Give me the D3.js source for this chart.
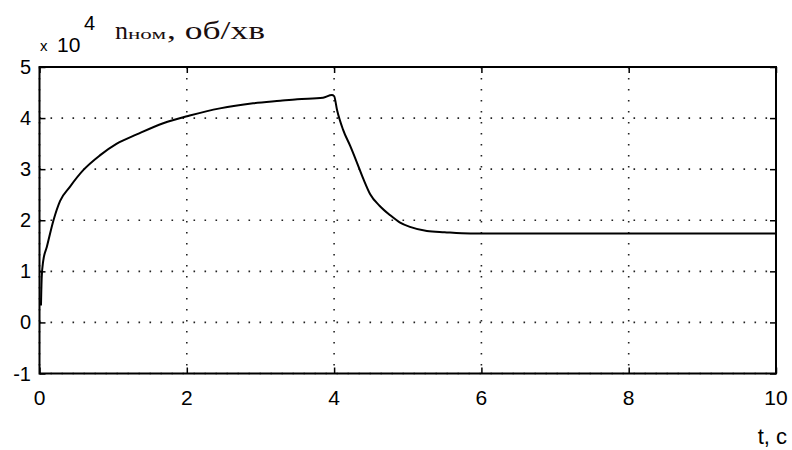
<!DOCTYPE html>
<html>
<head>
<meta charset="utf-8">
<script src="https://cdn.jsdelivr.net/npm/d3@7"></script>
<style>
body { margin: 0; background: #fff; }
</style>
</head>
<body>
<script>
var w = 792;
var h = 450;

// time, s
var tValues = [0.02, 0.03, 0.05, 0.1, 0.19, 0.28, 0.41, 0.6, 0.82, 1.05, 1.32, 1.68, 2.04, 2.45, 2.9, 3.27, 3.5, 3.85, 3.97, 4.0,
               4.04, 4.12, 4.22, 4.31, 4.4, 4.49, 4.62, 4.76, 4.89, 5.03, 5.26, 5.5, 5.85, 7, 10];
// speed, rpm
var nValues = [3300, 8800, 12000, 14800, 20000, 23800, 26500, 29900, 32700, 35000, 36800, 39000, 40500, 41900, 42900, 43400, 43700, 44000, 44500, 44300,
               41600, 37800, 34500, 31300, 28000, 25100, 22800, 21000, 19600, 18700, 17900, 17650, 17400, 17400, 17400];

var xTicks = [0, 2, 4, 6, 8, 10];
var yTicks = [-10000, 0, 10000, 20000, 30000, 40000, 50000];

var plotL = 39.5, plotR = 776, plotT = 67, plotB = 373.5;

var xScale = d3.scaleLinear().domain([0, 10]).range([plotL, plotR]);
var yScale = d3.scaleLinear().domain([-10000, 50000]).range([plotB, plotT]);

var svg = d3.select("body")
            .append("svg")
            .attr("width", w)
            .attr("height", h);

// dotted grid
svg.selectAll(".gx")
.data(xTicks)
.enter()
.append("line")
.attr("x1", function(d) { return xScale(d); })
.attr("x2", function(d) { return xScale(d); })
.attr("y1", plotT)
.attr("y2", plotB)
.style("stroke", "#222")
.style("stroke-width", 1.6)
.style("stroke-dasharray", "1.6,9.4");

svg.selectAll(".gy")
.data(yTicks)
.enter()
.append("line")
.attr("x1", plotL)
.attr("x2", plotR)
.attr("y1", function(d) { return yScale(d); })
.attr("y2", function(d) { return yScale(d); })
.style("stroke", "#222")
.style("stroke-width", 1.6)
.style("stroke-dasharray", "1.6,9.4");

// axes (ticks inside, all four sides)
svg.append("g")
.attr("transform", "translate(0," + plotB + ")")
.call(d3.axisTop(xScale).tickValues(xTicks).tickSize(6).tickFormat(""));
svg.append("g")
.attr("transform", "translate(0," + plotT + ")")
.call(d3.axisBottom(xScale).tickValues(xTicks).tickSize(6).tickFormat(""));
svg.append("g")
.attr("transform", "translate(" + plotL + ",0)")
.call(d3.axisRight(yScale).tickValues(yTicks).tickSize(6).tickFormat(""));
svg.append("g")
.attr("transform", "translate(" + plotR + ",0)")
.call(d3.axisLeft(yScale).tickValues(yTicks).tickSize(6).tickFormat(""));

svg.selectAll(".domain").remove();
svg.selectAll(".tick line").style("stroke", "#000").style("stroke-width", 1.5);

svg.append("rect")
.attr("x", plotL)
.attr("y", plotT)
.attr("width", plotR - plotL)
.attr("height", plotB - plotT)
.style("fill", "none")
.style("stroke", "#000")
.style("stroke-width", 2);

// tick labels
svg.selectAll(".xl")
.data(xTicks)
.enter()
.append("text")
.attr("x", function(d) { return xScale(d); })
.attr("y", 405)
.attr("text-anchor", "middle")
.style("font-family", "Liberation Sans, Arial, sans-serif")
.style("font-size", "21px")
.text(function(d) { return d; });

svg.selectAll(".yl")
.data(yTicks)
.enter()
.append("text")
.attr("x", 31)
.attr("y", function(d) { return yScale(d) + 7; })
.attr("text-anchor", "end")
.style("font-family", "Liberation Sans, Arial, sans-serif")
.style("font-size", "20px")
.text(function(d) { return d / 10000; });

// exponent
svg.append("text")
.attr("x", 40)
.attr("y", 51)
.style("font-family", "Liberation Sans, Arial, sans-serif")
.style("font-size", "15px")
.text("x");
svg.append("text")
.attr("x", 57)
.attr("y", 52)
.style("font-family", "Liberation Sans, Arial, sans-serif")
.style("font-size", "21px")
.text("10");
svg.append("text")
.attr("x", 84)
.attr("y", 30)
.style("font-family", "Liberation Sans, Arial, sans-serif")
.style("font-size", "20px")
.text("4");

// title, pieces stretched to the widths seen in the picture
var serif = "Liberation Serif, Times New Roman, serif";
svg.append("text")
.attr("x", 115).attr("y", 39)
.attr("textLength", 13).attr("lengthAdjust", "spacingAndGlyphs")
.style("font-family", serif).style("font-size", "25px").style("fill", "#1a0e0e")
.text("n");
svg.append("text")
.attr("x", 128).attr("y", 39)
.attr("textLength", 38).attr("lengthAdjust", "spacingAndGlyphs")
.style("font-family", serif).style("font-size", "15px").style("fill", "#1a0e0e")
.text("ном");
svg.append("text")
.attr("x", 167).attr("y", 39)
.attr("textLength", 98).attr("lengthAdjust", "spacingAndGlyphs")
.style("font-family", serif).style("font-size", "25px").style("fill", "#1a0e0e")
.text(", об/хв");

svg.append("text")
.attr("x", 787)
.attr("y", 444)
.attr("text-anchor", "end")
.style("font-family", "Liberation Sans, Arial, sans-serif")
.style("font-size", "22px")
.text("t, c");

// curve
var line = d3.line()
    .x(function(d, i) { return xScale(tValues[i]); })
    .y(function(d) { return yScale(d); })
    .curve(d3.curveMonotoneX);

svg.append("path")
.datum(nValues)
.attr("d", line)
.style("fill", "none")
.style("stroke", "#000")
.style("stroke-width", 2);
</script>
</body>
</html>
